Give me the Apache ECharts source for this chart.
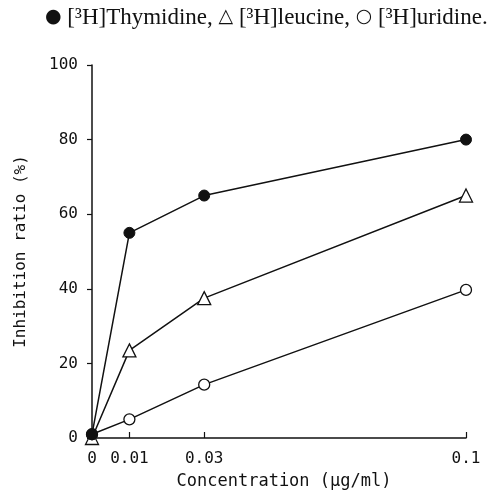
<!DOCTYPE html>
<html><head><meta charset="utf-8">
<script src="https://cdn.jsdelivr.net/npm/echarts@6/dist/echarts.min.js"></script>
<style>html,body{margin:0;padding:0;background:#fff}#c{width:497px;height:504px}</style>
</head><body><div id="c"></div>
<script>
const concentrations = [0, 0.01, 0.03, 0.1];
const xTickValues = [0, 0.01, 0.03, 0.1];
const xTickLabels = ['0', '0.01', '0.03', '0.1'];
const thymidine = [1, 55, 65, 80];
const leucine = [0, 23.5, 37.5, 65];
const uridine = [1, 5, 14.3, 39.7];
const seriesNames = ['[³H]Thymidine', '[³H]leucine', '[³H]uridine'];

const chart = echarts.init(document.getElementById('c'), null, {renderer: 'canvas'});
const pair = arr => concentrations.map((x, i) => [x, arr[i]]);
const fontMono = 'DejaVu Sans Mono';
chart.setOption({
  animation: false,
  backgroundColor: '#fff',
  title: {
    text: '{s|●} ' + seriesNames[0] + ', {s|△} ' + seriesNames[1] + ', {s|○} ' + seriesNames[2] + '.',
    left: 40, top: 1,
    textStyle: {fontFamily: 'Liberation Serif', fontSize: 23, fontWeight: 'normal', color: '#111',
      rich: {s: {fontFamily: 'DejaVu Sans', fontSize: 19, color: '#111'}}}
  },
  grid: {left: 92, right: 31, top: 65, bottom: 66},
  xAxis: {
    type: 'value', min: 0, max: 0.1,
    name: 'Concentration (µg/ml)', nameLocation: 'middle', nameGap: 35,
    nameTextStyle: {fontFamily: fontMono, fontSize: 17, color: '#111', padding: [0, 0, 0, 10]},
    axisLine: {show: true, onZero: false, lineStyle: {color: '#111', width: 1.5}},
    axisTick: {show: true, inside: true, length: 6, customValues: xTickValues, lineStyle: {color: '#111', width: 1.2}},
    axisLabel: {customValues: xTickValues, formatter: v => xTickLabels[xTickValues.indexOf(v)] ?? '',
      fontFamily: fontMono, fontSize: 16, color: '#111', margin: 13},
    splitLine: {show: false}
  },
  yAxis: {
    type: 'value', min: 0, max: 100, interval: 20,
    name: 'Inhibition ratio (%)', nameLocation: 'middle', nameGap: 63, nameRotate: 90,
    nameTextStyle: {fontFamily: fontMono, fontSize: 16, color: '#111'},
    axisLine: {show: true, lineStyle: {color: '#111', width: 1.5}},
    axisTick: {show: true, inside: false, length: 5, lineStyle: {color: '#111', width: 1.2}},
    axisLabel: {fontFamily: fontMono, fontSize: 16, color: '#111', margin: 14},
    splitLine: {show: false}
  },
  series: [
    {name: seriesNames[0], type: 'line', data: pair(thymidine), symbol: 'circle', symbolSize: 11,
      itemStyle: {color: '#111', borderColor: '#111', borderWidth: 1}, lineStyle: {color: '#111', width: 1.5}, z: 3},
    {name: seriesNames[1], type: 'line', data: pair(leucine), symbol: 'triangle', symbolSize: 13,
      itemStyle: {color: '#fff', borderColor: '#111', borderWidth: 1.3}, lineStyle: {color: '#111', width: 1.5}, z: 2},
    {name: seriesNames[2], type: 'line', data: pair(uridine), symbol: 'circle', symbolSize: 11,
      itemStyle: {color: '#fff', borderColor: '#111', borderWidth: 1.3}, lineStyle: {color: '#111', width: 1.5}, z: 2}
  ]
});
</script></body></html>
